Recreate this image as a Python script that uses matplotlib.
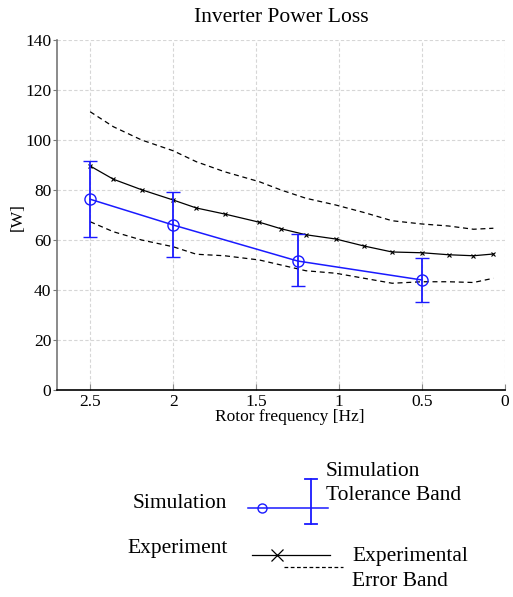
import numpy as np
import matplotlib
matplotlib.use("Agg")
import matplotlib.pyplot as plt

# Simulation points (with tolerance band)
sim_f = [2.5, 2.0, 1.25, 0.5]
sim_p = [76.3, 66.0, 51.6, 44.0]
sim_lo = [61.3, 53.1, 41.5, 35.4]
sim_hi = [91.5, 79.1, 62.3, 53.0]

# Experiment points and error band
exp_f = [2.5, 2.36, 2.19, 2.0, 1.86, 1.69, 1.48, 1.35, 1.2, 1.02, 0.85, 0.68, 0.5, 0.34, 0.19, 0.07]
exp_p = [89.6, 84.3, 80.1, 76.0, 72.8, 70.4, 67.1, 64.5, 62.1, 60.4, 57.6, 55.2, 54.9, 54.1, 53.7, 54.4]
band_hi = [111.3, 105.3, 100.0, 95.7, 91.3, 87.3, 83.3, 80.0, 76.7, 74.0, 71.0, 67.7, 66.4, 65.6, 64.3, 64.7]
band_lo = [67.3, 63.3, 60.0, 57.3, 54.3, 53.7, 52.0, 50.0, 47.7, 46.7, 44.7, 42.7, 43.3, 43.3, 43.0, 44.7]

plt.rcParams.update({
    "font.family": ["Liberation Serif", "DejaVu Serif"],
    "mathtext.fontset": "stix",
})

W, H = 513, 597
fig = plt.figure(figsize=(W / 100, H / 100), dpi=100)
ax = fig.add_axes([57 / W, 1 - 390 / H, (505 - 57) / W, (390 - 40) / H])

sim_err = [np.array(sim_p) - np.array(sim_lo), np.array(sim_hi) - np.array(sim_p)]

ax.plot(exp_f, band_hi, color="k", linestyle=(0, (4, 3)), linewidth=0.9)
ax.plot(exp_f, band_lo, color="k", linestyle=(0, (4, 3)), linewidth=0.9)
ax.plot(exp_f, exp_p, color="k", linewidth=0.9, marker="x", markersize=3.5,
        markeredgewidth=0.8)
ax.errorbar(sim_f, sim_p, yerr=sim_err, color="#1a1aff", linewidth=1.1,
            marker="o", markersize=8, markerfacecolor="none",
            markeredgewidth=1.0, capsize=5, elinewidth=1.3, capthick=1.3)

ax.set_xlim(2.7, 0)
ax.set_ylim(0, 140)
ax.set_xticks([2.5, 2, 1.5, 1, 0.5, 0])
ax.set_xticklabels(["2.5", "2", "1.5", "1", "0.5", "0"])
ax.set_yticks(range(0, 141, 20))

ax.grid(True, color="#d6d6d6", linestyle=(0, (3, 2)), linewidth=0.8)
for s in ["top", "right"]:
    ax.spines[s].set_visible(False)
ax.spines["left"].set_color("#777777")
ax.spines["left"].set_linewidth(1.2)
ax.spines["bottom"].set_color("k")
ax.spines["bottom"].set_linewidth(1.2)

ax.tick_params(axis="y", direction="out", length=3, color="#777777",
               labelsize=12.5, pad=1)
ax.tick_params(axis="x", direction="in", length=4, color="#888888",
               labelsize=12.5, pad=3)

ax.set_title("Inverter Power Loss", fontsize=15.5, pad=13)
ax.set_xlabel("Rotor frequency [Hz]", fontsize=12.5, va="center")
ax.xaxis.set_label_coords(0.52, -0.077)
ax.set_ylabel("[W]", fontsize=12.5, va="center")
ax.yaxis.set_label_coords(-0.087, 0.494)

# hand-drawn legend below the plot, in pixel coordinates
lg = fig.add_axes([0, 0, 1, 1])
lg.set_xlim(0, W)
lg.set_ylim(H, 0)
lg.axis("off")

lg.text(133, 503, "Simulation", fontsize=15.5, va="center", ha="left")
lg.plot([248, 328], [508, 508], color="#1a1aff", linewidth=1.1)
lg.plot([262], [508], marker="o", markersize=6.5, markerfacecolor="none",
        markeredgecolor="#1a1aff", markeredgewidth=1.0)
lg.plot([311, 311], [479, 524], color="#1a1aff", linewidth=1.3)
lg.plot([305, 317], [479, 479], color="#1a1aff", linewidth=1.3)
lg.plot([305, 317], [524, 524], color="#1a1aff", linewidth=1.3)
lg.text(326, 471, "Simulation", fontsize=15.5, va="center", ha="left")
lg.text(326, 495, "Tolerance Band", fontsize=15.5, va="center", ha="left")

lg.text(127, 549, "Experiment", fontsize=15.5, va="center", ha="left")
lg.plot([252, 330], [555, 555], color="k", linewidth=0.9)
lg.plot([277], [555], marker="x", markersize=9, color="k", markeredgewidth=0.9)
lg.plot([284, 343], [567, 567], color="k", linestyle=(0, (3, 2)), linewidth=0.9)
lg.text(352, 556, "Experimental", fontsize=15.5, va="center", ha="left")
lg.text(352, 581, "Error Band", fontsize=15.5, va="center", ha="left")

fig.savefig("out.png", dpi=100)
